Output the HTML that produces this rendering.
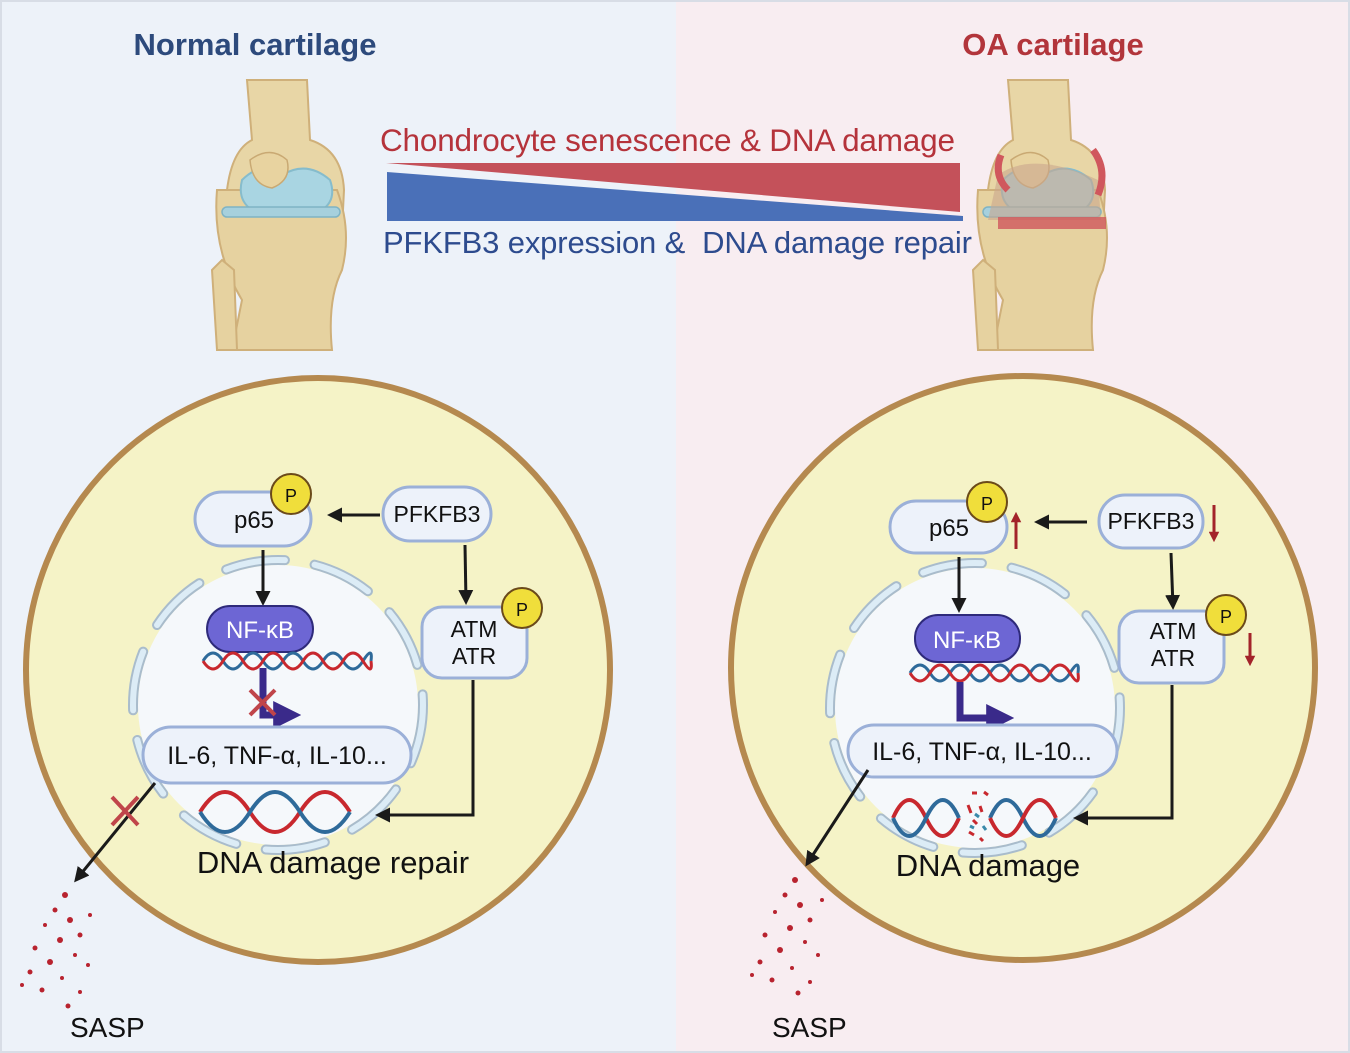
<!DOCTYPE html>
<html><head><meta charset="utf-8"><style>
html,body{margin:0;padding:0;background:#fff}
svg{display:block}
text{font-family:"Liberation Sans",sans-serif}
</style></head><body>
<svg width="1350" height="1053" viewBox="0 0 1350 1053" xmlns="http://www.w3.org/2000/svg">
<defs>
<marker id="ah" viewBox="0 0 10 10" refX="8" refY="5" markerWidth="5" markerHeight="5" orient="auto"><path d="M0,0L10,5L0,10z" fill="#1a1a1a"/></marker>
<marker id="ap" viewBox="0 0 10 10" refX="6" refY="5" markerWidth="4" markerHeight="4" orient="auto"><path d="M0,0L10,5L0,10z" fill="#3a2a8a"/></marker>
<marker id="ar" viewBox="0 0 10 10" refX="6" refY="5" markerWidth="3.5" markerHeight="3.5" orient="auto"><path d="M0,0L10,5L0,10z" fill="#a3232a"/></marker>
<g id="knee">
<path d="M35,0 L95,0 L98,60 Q130,70 132,110 L130,150 L20,150 L15,110 Q20,70 40,60 Z" fill="#e8d6a6" stroke="#cfb07a" stroke-width="2"/>
<path d="M5,110 Q0,170 30,220 L20,270 L120,270 Q115,220 130,190 Q140,150 125,110 Z" fill="#e6d2a0" stroke="#cfb07a" stroke-width="2"/>
<path d="M0,190 L10,180 L22,190 L25,270 L5,270 Z" fill="#e6d2a0" stroke="#cfb07a" stroke-width="2"/>
<path d="M30,100 Q50,80 70,95 Q95,80 118,100 Q125,120 110,130 L40,130 Q25,120 30,100Z" fill="#a9d5e2" stroke="#86bccc" stroke-width="2"/>
<rect x="10" y="127" width="118" height="10" rx="5" fill="#a6d0dd" stroke="#7fb3c4" stroke-width="1.5"/>
<path d="M38,80 Q58,65 75,80 Q80,100 60,108 Q40,105 38,80Z" fill="#e8d3a0" stroke="#c9a973" stroke-width="1.5"/>
</g>
</defs>
<rect x="0" y="0" width="676" height="1053" fill="#edf2f9"/>
<rect x="676" y="0" width="674" height="1053" fill="#f8edf1"/>
<rect x="1" y="1" width="1348" height="1051" fill="none" stroke="#d8dde6" stroke-width="2"/>

<text x="255" y="55" text-anchor="middle" font-size="31" font-weight="bold" fill="#2d4a7c">Normal cartilage</text>
<text x="1053" y="55" text-anchor="middle" font-size="31" font-weight="bold" fill="#b2353b">OA cartilage</text>

<use href="#knee" transform="translate(212,80)"/>
<g transform="translate(973,80)"><use href="#knee"/>
<path d="M25,95 Q60,70 125,100 L128,140 L15,140Z" fill="#c9a78e" opacity="0.6"/>
<rect x="25" y="137" width="108" height="12" fill="#d0575d" opacity="0.8"/>
<path d="M28,75 Q20,95 35,110 M120,70 Q135,90 125,115" stroke="#d0575d" stroke-width="7" fill="none"/>
</g>

<text x="380" y="151" font-size="31.5" fill="#b5333b" textLength="575">Chondrocyte senescence &amp; DNA damage</text>
<polygon points="386,163 960,163 960,212" fill="#c4515a"/>
<polygon points="387,172 963,216 963,221 387,221" fill="#4a70b8"/>
<text x="383" y="253" font-size="31" fill="#2d4b8e" xml:space="preserve" textLength="589">PFKFB3 expression &amp;  DNA damage repair</text>

<!-- LEFT CELL -->
<circle cx="318" cy="670" r="292" fill="#f5f3c7" stroke="#b5894f" stroke-width="6"/>
<circle cx="278" cy="705" r="140" fill="#f5f8fb"/>
<circle cx="278" cy="705" r="145" fill="none" stroke="#a9bccc" stroke-width="10" stroke-dasharray="60 30" stroke-linecap="round"/>
<circle cx="278" cy="705" r="145" fill="none" stroke="#dcecf6" stroke-width="6" stroke-dasharray="60 30" stroke-linecap="round"/>

<rect x="195" y="492" width="116" height="54" rx="27" fill="#edf2fa" stroke="#9bb0d8" stroke-width="3"/>
<text x="254" y="528" text-anchor="middle" font-size="24" fill="#111">p65</text>
<circle cx="291" cy="494" r="20" fill="#f0de3b" stroke="#6b4a1a" stroke-width="2"/>
<text x="291" y="502" text-anchor="middle" font-size="18" fill="#111">P</text>
<rect x="383" y="487" width="108" height="54" rx="27" fill="#edf2fa" stroke="#9bb0d8" stroke-width="3"/>
<text x="437" y="522" text-anchor="middle" font-size="23" fill="#111">PFKFB3</text>
<line x1="380" y1="515" x2="330" y2="515" stroke="#1a1a1a" stroke-width="3" marker-end="url(#ah)"/>
<line x1="263" y1="550" x2="263" y2="603" stroke="#1a1a1a" stroke-width="3" marker-end="url(#ah)"/>
<line x1="465" y1="545" x2="466" y2="602" stroke="#1a1a1a" stroke-width="3" marker-end="url(#ah)"/>
<rect x="422" y="607" width="105" height="71" rx="20" fill="#edf2fa" stroke="#9bb0d8" stroke-width="3"/>
<text x="474" y="637" text-anchor="middle" font-size="23" fill="#111">ATM</text>
<text x="474" y="664" text-anchor="middle" font-size="23" fill="#111">ATR</text>
<circle cx="522" cy="608" r="20" fill="#f0de3b" stroke="#6b4a1a" stroke-width="2"/>
<text x="522" y="616" text-anchor="middle" font-size="18" fill="#111">P</text>
<polyline points="473,680 473,815 378,815" fill="none" stroke="#1a1a1a" stroke-width="3" marker-end="url(#ah)"/>

<rect x="207" y="606" width="106" height="46" rx="23" fill="#6d66d4" stroke="#2e2a7a" stroke-width="2"/>
<text x="260" y="638" text-anchor="middle" font-size="24" fill="#fff">NF-κB</text>
<path d="M203,661 q10,-16 20,0 t20,0 t20,0 t20,0 t20,0 t20,0 t20,0 t20,0 t8,0" fill="none" stroke="#2e6a9a" stroke-width="3"/>
<path d="M203,661 q10,16 20,0 t20,0 t20,0 t20,0 t20,0 t20,0 t20,0 t20,0 t8,0" fill="none" stroke="#c8282e" stroke-width="3"/>
<polyline points="263,668 263,715 290,715" fill="none" stroke="#3a2a8a" stroke-width="7" marker-end="url(#ap)"/>
<path d="M250,690 L275,715 M275,690 L250,715" stroke="#c0454a" stroke-width="4"/>
<rect x="143" y="727" width="268" height="56" rx="28" fill="#edf2fa" stroke="#9bb0d8" stroke-width="3"/>
<text x="277" y="764" text-anchor="middle" font-size="25" fill="#111">IL-6, TNF-α, IL-10...</text>
<path d="M200,812 q25,-40 50,0 t50,0 t50,0" fill="none" stroke="#c8282e" stroke-width="4"/>
<path d="M200,812 q25,40 50,0 t50,0 t50,0" fill="none" stroke="#2e6a9a" stroke-width="4"/>
<text x="333" y="873" text-anchor="middle" font-size="31" fill="#111">DNA damage repair</text>
<line x1="155" y1="783" x2="76" y2="880" stroke="#1a1a1a" stroke-width="3" marker-end="url(#ah)"/>
<path d="M112,797 L138,825 M138,797 L112,825" stroke="#c0454a" stroke-width="4"/>
<g fill="#b8232f">
<circle cx="65" cy="895" r="3"/><circle cx="55" cy="910" r="2.5"/><circle cx="70" cy="920" r="3"/><circle cx="45" cy="925" r="2"/><circle cx="80" cy="935" r="2.5"/><circle cx="60" cy="940" r="3"/><circle cx="35" cy="948" r="2.5"/><circle cx="75" cy="955" r="2"/><circle cx="50" cy="962" r="3"/><circle cx="88" cy="965" r="2"/><circle cx="30" cy="972" r="2.5"/><circle cx="62" cy="978" r="2"/><circle cx="42" cy="990" r="2.5"/><circle cx="80" cy="992" r="2"/><circle cx="68" cy="1006" r="2.5"/><circle cx="22" cy="985" r="2"/><circle cx="90" cy="915" r="2"/>
</g>
<text x="70" y="1037" font-size="28" fill="#111">SASP</text>

<!-- RIGHT CELL -->
<circle cx="1023" cy="668" r="292" fill="#f5f3c7" stroke="#b5894f" stroke-width="6"/>
<circle cx="975" cy="708" r="140" fill="#f5f8fb"/>
<circle cx="975" cy="708" r="145" fill="none" stroke="#a9bccc" stroke-width="10" stroke-dasharray="60 30" stroke-linecap="round"/>
<circle cx="975" cy="708" r="145" fill="none" stroke="#dcecf6" stroke-width="6" stroke-dasharray="60 30" stroke-linecap="round"/>

<rect x="890" y="501" width="117" height="52" rx="26" fill="#edf2fa" stroke="#9bb0d8" stroke-width="3"/>
<text x="949" y="536" text-anchor="middle" font-size="24" fill="#111">p65</text>
<circle cx="987" cy="502" r="20" fill="#f0de3b" stroke="#6b4a1a" stroke-width="2"/>
<text x="987" y="510" text-anchor="middle" font-size="18" fill="#111">P</text>
<line x1="1016" y1="549" x2="1016" y2="516" stroke="#a3232a" stroke-width="3" marker-end="url(#ar)"/>
<rect x="1099" y="495" width="104" height="53" rx="26" fill="#edf2fa" stroke="#9bb0d8" stroke-width="3"/>
<text x="1151" y="529" text-anchor="middle" font-size="23" fill="#111">PFKFB3</text>
<line x1="1214" y1="505" x2="1214" y2="538" stroke="#a3232a" stroke-width="3" marker-end="url(#ar)"/>
<line x1="1087" y1="522" x2="1037" y2="522" stroke="#1a1a1a" stroke-width="3" marker-end="url(#ah)"/>
<line x1="959" y1="557" x2="959" y2="610" stroke="#1a1a1a" stroke-width="3" marker-end="url(#ah)"/>
<line x1="1171" y1="553" x2="1173" y2="607" stroke="#1a1a1a" stroke-width="3" marker-end="url(#ah)"/>
<rect x="1119" y="611" width="105" height="72" rx="20" fill="#edf2fa" stroke="#9bb0d8" stroke-width="3"/>
<text x="1173" y="639" text-anchor="middle" font-size="23" fill="#111">ATM</text>
<text x="1173" y="666" text-anchor="middle" font-size="23" fill="#111">ATR</text>
<circle cx="1226" cy="615" r="20" fill="#f0de3b" stroke="#6b4a1a" stroke-width="2"/>
<text x="1226" y="623" text-anchor="middle" font-size="18" fill="#111">P</text>
<line x1="1250" y1="633" x2="1250" y2="662" stroke="#a3232a" stroke-width="3" marker-end="url(#ar)"/>
<polyline points="1172,685 1172,818 1076,818" fill="none" stroke="#1a1a1a" stroke-width="3" marker-end="url(#ah)"/>

<rect x="915" y="615" width="105" height="47" rx="23" fill="#6d66d4" stroke="#2e2a7a" stroke-width="2"/>
<text x="967" y="648" text-anchor="middle" font-size="24" fill="#fff">NF-κB</text>
<path d="M910,673 q10,-16 20,0 t20,0 t20,0 t20,0 t20,0 t20,0 t20,0 t20,0 t8,0" fill="none" stroke="#2e6a9a" stroke-width="3"/>
<path d="M910,673 q10,16 20,0 t20,0 t20,0 t20,0 t20,0 t20,0 t20,0 t20,0 t8,0" fill="none" stroke="#c8282e" stroke-width="3"/>
<polyline points="960,682 960,718 1003,718" fill="none" stroke="#3a2a8a" stroke-width="7" marker-end="url(#ap)"/>
<rect x="848" y="725" width="269" height="52" rx="26" fill="#edf2fa" stroke="#9bb0d8" stroke-width="3"/>
<text x="982" y="760" text-anchor="middle" font-size="25" fill="#111">IL-6, TNF-α, IL-10...</text>
<path d="M893,818 q16,-36 33,0 t33,0" fill="none" stroke="#c8282e" stroke-width="4"/>
<path d="M893,818 q16,36 33,0 t33,0" fill="none" stroke="#2e6a9a" stroke-width="4"/>
<path d="M990,818 q16,-36 33,0 t33,0" fill="none" stroke="#2e6a9a" stroke-width="4"/>
<path d="M990,818 q16,36 33,0 t33,0" fill="none" stroke="#c8282e" stroke-width="4"/>
<path d="M972,793 l5,0 M984,792 l4,3 M968,805 l3,8 M980,806 l2,6 M973,820 l4,4 M969,832 l5,3 M980,838 l3,3" stroke="#c8282e" stroke-width="3"/>
<path d="M975,814 l4,3 M970,826 l4,2 M983,826 l3,4" stroke="#3a8aaa" stroke-width="3"/>
<text x="988" y="876" text-anchor="middle" font-size="31" fill="#111">DNA damage</text>
<line x1="868" y1="770" x2="807" y2="864" stroke="#1a1a1a" stroke-width="3" marker-end="url(#ah)"/>
<g fill="#b8232f">
<circle cx="795" cy="880" r="3"/><circle cx="785" cy="895" r="2.5"/><circle cx="800" cy="905" r="3"/><circle cx="775" cy="912" r="2"/><circle cx="810" cy="920" r="2.5"/><circle cx="790" cy="928" r="3"/><circle cx="765" cy="935" r="2.5"/><circle cx="805" cy="942" r="2"/><circle cx="780" cy="950" r="3"/><circle cx="818" cy="955" r="2"/><circle cx="760" cy="962" r="2.5"/><circle cx="792" cy="968" r="2"/><circle cx="772" cy="980" r="2.5"/><circle cx="810" cy="982" r="2"/><circle cx="798" cy="993" r="2.5"/><circle cx="752" cy="975" r="2"/><circle cx="822" cy="900" r="2"/>
</g>
<text x="772" y="1037" font-size="28" fill="#111">SASP</text>
</svg>
</body></html>
